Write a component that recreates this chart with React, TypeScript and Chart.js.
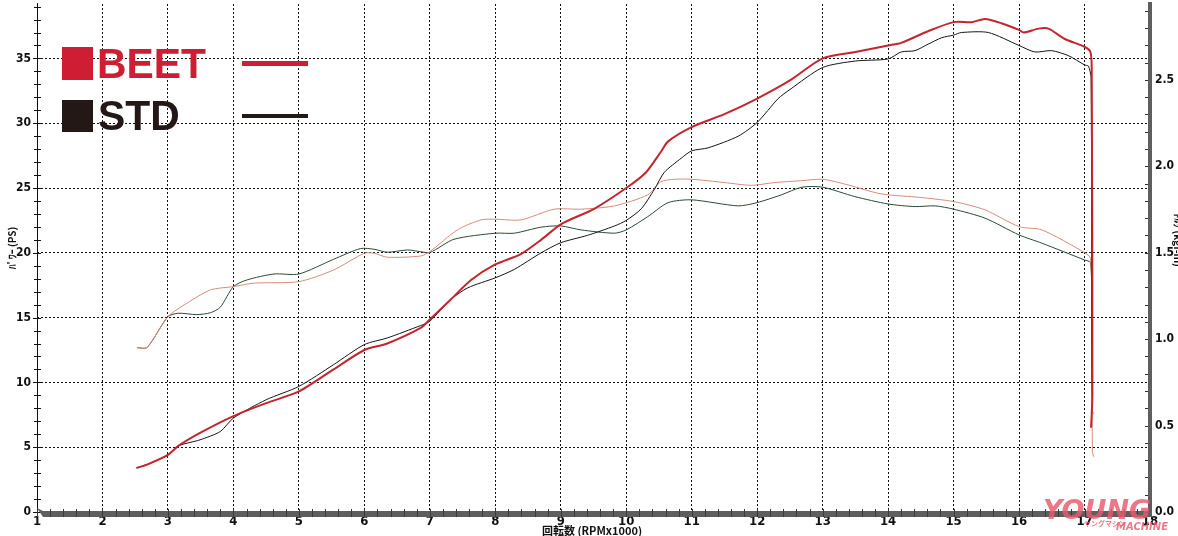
import React, { useEffect, useRef } from "react";
import { Chart, registerables } from "chart.js";

Chart.register(...registerables);

// ---- data (rpm x1000, PS / kgf-m) ----
const beetPowerX = [2.52, 2.7, 3.0, 3.16, 3.49, 4.0, 4.5, 5.0, 5.53, 6.0, 6.35, 6.86, 7.0, 7.32, 7.63, 8.0, 8.39, 8.7, 9.0, 9.51, 10.0, 10.3, 10.53, 10.64, 11.0, 11.5, 12.0, 12.5, 13.0, 13.5, 14.0, 14.2, 14.61, 15.0, 15.28, 15.48, 15.74, 16.0, 16.07, 16.3, 16.45, 16.7, 17.0, 17.09, 17.11, 17.12, 17.1];
const beetPowerY = [3.4, 3.7, 4.4, 5.1, 6.1, 7.4, 8.4, 9.3, 11.0, 12.5, 13.0, 14.2, 14.85, 16.4, 17.9, 19.1, 19.9, 21.0, 22.2, 23.4, 25.0, 26.2, 27.8, 28.6, 29.7, 30.7, 31.9, 33.3, 35.0, 35.5, 36.0, 36.2, 37.1, 37.8, 37.8, 38.05, 37.7, 37.2, 37.0, 37.3, 37.3, 36.5, 35.9, 35.5, 34.2, 9.0, 6.5];

const stdPowerX = [2.52, 2.7, 3.0, 3.16, 3.49, 3.8, 4.0, 4.5, 5.0, 5.53, 6.0, 6.35, 6.86, 7.0, 7.32, 7.58, 8.0, 8.29, 8.7, 9.0, 9.41, 9.82, 10.0, 10.23, 10.43, 10.58, 10.84, 11.0, 11.25, 11.71, 12.0, 12.32, 12.5, 13.0, 13.5, 14.0, 14.2, 14.41, 14.61, 14.82, 15.0, 15.12, 15.53, 16.0, 16.24, 16.5, 16.76, 17.0, 17.06, 17.1, 17.11, 17.12];
const stdPowerY = [3.4, 3.7, 4.4, 5.1, 5.57, 6.21, 7.25, 8.66, 9.69, 11.37, 12.92, 13.43, 14.39, 14.72, 16.4, 17.3, 18.07, 18.72, 20.0, 20.78, 21.35, 22.07, 22.5, 23.4, 24.9, 26.2, 27.3, 27.87, 28.1, 29.0, 30.06, 31.9, 32.6, 34.3, 34.8, 34.96, 35.5, 35.6, 36.1, 36.6, 36.8, 37.0, 37.0, 36.0, 35.5, 35.6, 35.2, 34.5, 34.4, 33.5, 12.0, 8.5];

const beetTorqueX = [2.53, 2.68, 3.0, 3.29, 3.65, 4.0, 4.31, 5.0, 5.53, 6.0, 6.15, 6.35, 6.86, 7.0, 7.42, 7.78, 8.0, 8.39, 8.9, 9.31, 9.82, 10.33, 10.53, 10.74, 11.0, 11.5, 11.91, 12.27, 12.68, 13.0, 13.39, 13.8, 14.0, 14.46, 15.0, 15.48, 16.0, 16.35, 17.0, 17.09, 17.11, 17.12, 17.14];
const beetTorqueY = [0.951, 0.951, 1.13, 1.208, 1.285, 1.304, 1.324, 1.333, 1.4, 1.497, 1.497, 1.474, 1.481, 1.506, 1.632, 1.69, 1.694, 1.69, 1.752, 1.752, 1.771, 1.835, 1.911, 1.925, 1.925, 1.906, 1.89, 1.906, 1.917, 1.925, 1.892, 1.848, 1.835, 1.821, 1.796, 1.748, 1.651, 1.632, 1.501, 1.468, 1.2, 0.35, 0.32];

const stdTorqueX = [2.53, 2.68, 3.0, 3.16, 3.44, 3.65, 3.8, 4.0, 4.21, 4.62, 5.0, 5.53, 5.94, 6.15, 6.35, 6.66, 6.86, 7.0, 7.37, 8.0, 8.29, 8.7, 9.0, 9.31, 9.82, 10.0, 10.33, 10.64, 11.0, 11.71, 12.0, 12.37, 12.68, 13.0, 13.49, 14.0, 14.41, 14.72, 15.0, 15.48, 16.0, 16.35, 17.0, 17.09, 17.11, 17.12, 17.14];
const stdTorqueY = [0.951, 0.951, 1.13, 1.15, 1.142, 1.153, 1.185, 1.304, 1.343, 1.377, 1.377, 1.462, 1.524, 1.52, 1.503, 1.516, 1.506, 1.501, 1.578, 1.613, 1.613, 1.648, 1.655, 1.632, 1.613, 1.632, 1.709, 1.79, 1.806, 1.771, 1.79, 1.835, 1.879, 1.879, 1.825, 1.782, 1.767, 1.771, 1.752, 1.7, 1.603, 1.555, 1.458, 1.443, 1.2, 0.58, 0.57];

const legendLabels = ["BEET", "STD"];
const xTitle = "回転数 (RPMx1000)";
const yTitle = "ﾊﾟﾜｰ (PS)";
const y1Title = "ﾄﾙｸ (kgf-m)";

const zip = (xs: number[], ys: number[]) => xs.map((x, i) => ({ x, y: ys[i] }));

const TICK_FONT = "'Liberation Sans Narrow', 'DejaVu Sans Condensed', 'Liberation Sans', sans-serif";

const decor = {
  id: "decor",
  afterDraw(chart: any) {
    const ctx = chart.ctx as CanvasRenderingContext2D;
    const xs = chart.scales.x;
    const y = chart.scales.y;
    const y1 = chart.scales.y1;
    const L = xs.left;
    const R = xs.right;
    const T = y.top;
    const B = y.bottom;
    ctx.save();

    // left axis line + ticks
    ctx.strokeStyle = "#111";
    ctx.lineWidth = 1;
    ctx.beginPath();
    ctx.moveTo(L + 0.5, T - 1);
    ctx.lineTo(L + 0.5, B);
    for (let v = 0; v <= 39; v++) {
      const py = Math.round(y.getPixelForValue(v)) + 0.5;
      const major = v % 5 === 0;
      ctx.moveTo(L - (major ? 4 : 3), py);
      ctx.lineTo(L + 4, py);
    }
    ctx.stroke();

    // bottom thick bar
    ctx.fillStyle = "#5e5e5e";
    ctx.beginPath();
    ctx.moveTo(L, B - 4);
    ctx.lineTo(L + 6, B - 1);
    ctx.lineTo(R, B - 1);
    ctx.lineTo(R, B + 5);
    ctx.lineTo(L + 6, B + 5);
    ctx.closePath();
    ctx.fill();
    ctx.strokeStyle = "#3a3a3a";
    ctx.beginPath();
    for (let v = 1; v <= 18.001; v += 0.2) {
      const px = Math.round(xs.getPixelForValue(v)) + 0.5;
      ctx.moveTo(px, B - 3);
      ctx.lineTo(px, B + 5);
    }
    ctx.stroke();

    // right thick bar + minor ticks
    ctx.fillStyle = "#5e5e5e";
    ctx.fillRect(R - 2, T - 2, 4, B - T + 7);
    ctx.strokeStyle = "#333";
    ctx.beginPath();
    for (let v = 0; v <= 2.91; v += 0.1) {
      const py = Math.round(y1.getPixelForValue(v)) + 0.5;
      ctx.moveTo(R - 5, py);
      ctx.lineTo(R - 2, py);
    }
    ctx.stroke();

    // axis titles
    ctx.fillStyle = "#111";
    ctx.font = "bold 11px 'Noto Sans CJK JP', " + TICK_FONT;
    ctx.textAlign = "center";
    ctx.textBaseline = "middle";
    ctx.fillText(xTitle, 592, 531);

    ctx.font = "bold 10px 'Noto Sans CJK JP', " + TICK_FONT;
    ctx.save();
    ctx.translate(12, 248);
    ctx.rotate(-Math.PI / 2);
    ctx.fillText(yTitle, 0, 0);
    ctx.restore();
    ctx.save();
    ctx.translate(1178, 240);
    ctx.rotate(Math.PI / 2);
    ctx.fillText(y1Title, 0, 0);
    ctx.restore();

    // legend
    const red = "#cf1e33";
    const blk = "#231815";
    ctx.textAlign = "left";
    ctx.textBaseline = "alphabetic";
    ctx.font = "bold 43px 'Liberation Sans', Arial, sans-serif";
    ctx.fillStyle = red;
    ctx.fillRect(62, 47, 31, 33);
    ctx.save();
    ctx.translate(97, 78);
    ctx.scale(0.95, 1);
    ctx.fillText(legendLabels[0], 0, 0);
    ctx.restore();
    ctx.fillRect(242, 61, 66, 5);
    ctx.fillStyle = blk;
    ctx.fillRect(62, 100, 31, 32);
    ctx.save();
    ctx.translate(98, 130);
    ctx.scale(0.95, 1);
    ctx.fillText(legendLabels[1], 0, 0);
    ctx.restore();
    ctx.fillRect(242, 114, 66, 4);

    // watermark
    ctx.globalAlpha = 0.82;
    ctx.fillStyle = "#e85a6c";
    ctx.font = "italic bold 27px 'DejaVu Sans', sans-serif";
    ctx.fillText("YOUNG", 1043, 519);
    ctx.font = "bold 7px 'Noto Sans CJK JP', sans-serif";
    ctx.fillText("ヤングマシン", 1084, 526);
    ctx.font = "italic bold 10px 'DejaVu Sans', sans-serif";
    ctx.fillText("MACHINE", 1116, 530);
    ctx.restore();
  },
};

export default function App() {
  const ref = useRef<HTMLCanvasElement | null>(null);

  useEffect(() => {
    document.body.style.margin = "0";
    const canvas = ref.current!;
    const dash = [2, 2];
    const chart = new Chart(canvas, {
      type: "line",
      data: {
        datasets: [
          { label: "BEET パワー", data: zip(beetPowerX, beetPowerY), borderColor: "#c3262d", borderWidth: 2, yAxisID: "y" },
          { label: "STD パワー", data: zip(stdPowerX, stdPowerY), borderColor: "#151515", borderWidth: 1, yAxisID: "y" },
          { label: "BEET トルク", data: zip(beetTorqueX, beetTorqueY), borderColor: "#d58c7c", borderWidth: 1, yAxisID: "y1" },
          { label: "STD トルク", data: zip(stdTorqueX, stdTorqueY), borderColor: "#2c4a33", borderWidth: 1, yAxisID: "y1" },
        ],
      },
      options: {
        responsive: false,
        animation: false,
        devicePixelRatio: 1,
        layout: { padding: { top: 4, left: 0, right: 0, bottom: 0 } },
        elements: { point: { radius: 0 }, line: { tension: 0.25, fill: false } },
        plugins: { legend: { display: false }, tooltip: { enabled: false } },
        scales: {
          x: {
            type: "linear",
            min: 1,
            max: 18,
            afterFit: (s: any) => { s.height = 24; s.paddingLeft = 0; s.paddingRight = 0; },
            ticks: { stepSize: 1, color: "#111", padding: 2, font: { family: TICK_FONT, weight: "bold", size: 13 }, maxRotation: 0, autoSkip: false },
            grid: {
              drawTicks: false,
              lineWidth: 1,
              color: (c: any) => (c.tick && (c.tick.value === 1 || c.tick.value === 18) ? "rgba(0,0,0,0)" : "#111"),
            },
            border: { display: false, dash },
          },
          y: {
            position: "left",
            min: 0,
            max: 39.2,
            afterFit: (s: any) => { s.width = 37; s.paddingTop = 0; s.paddingBottom = 0; },
            ticks: { stepSize: 5, includeBounds: false, color: "#111", padding: 6, font: { family: TICK_FONT, weight: "bold", size: 12 } },
            grid: {
              drawTicks: false,
              lineWidth: 1,
              color: (c: any) => (c.tick && c.tick.value === 0 ? "rgba(0,0,0,0)" : "#111"),
            },
            border: { display: false, dash },
          },
          y1: {
            position: "right",
            min: 0,
            max: 2.939,
            afterFit: (s: any) => { s.width = 28; s.paddingTop = 0; s.paddingBottom = 0; },
            ticks: {
              stepSize: 0.5,
              includeBounds: false,
              color: "#111",
              padding: 5,
              font: { family: TICK_FONT, weight: "bold", size: 12 },
              callback: (v: any) => Number(v).toFixed(1),
            },
            grid: { display: false, drawTicks: false },
            border: { display: false },
          },
        },
      },
      plugins: [decor],
    } as any);
    return () => chart.destroy();
  }, []);

  return (
    <div style={{ position: "absolute", left: 0, top: 0, width: 1178, height: 536, background: "#fff" }}>
      <canvas ref={ref} width={1178} height={536} style={{ display: "block" }} />
    </div>
  );
}
